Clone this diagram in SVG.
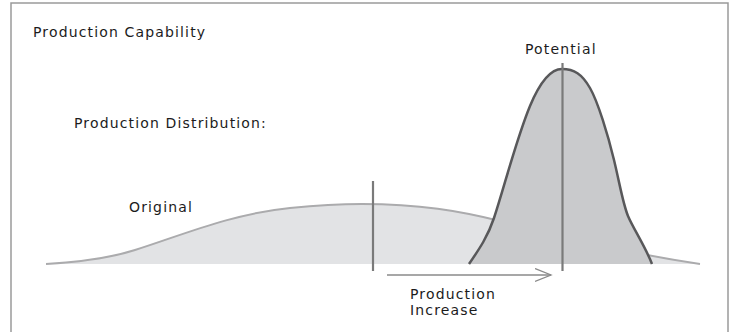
<svg xmlns="http://www.w3.org/2000/svg" width="734" height="332" viewBox="0 0 734 332">
<style>
  .lbl { font-family: "DejaVu Sans", "Liberation Sans", sans-serif; font-size: 14px; letter-spacing: 1.15px; fill: #1c1c1c; }
  .frame { fill: none; stroke: #9a9a9a; stroke-width: 1.5; }
  .marker { stroke: #7a7a7a; stroke-width: 2.2; fill: none; }
</style>
<defs>
  <marker id="chev" markerWidth="18" markerHeight="16" refX="16" refY="7" orient="auto" markerUnits="userSpaceOnUse">
    <path d="M0,0.5 L16,7 L0,13.5" fill="none" stroke="#8a8a8a" stroke-width="1.3"/>
  </marker>
</defs>
<rect x="0" y="0" width="734" height="332" fill="#fff"/>
<path class="frame" d="M11,332 V3 H728 V332"/>
<text class="lbl" x="33" y="37.3">Production Capability</text>
<text class="lbl" x="74" y="128.3">Production Distribution:</text>
<g id="original">
  <path d="M46,264 C80,262 110,258 135,250 C180,236 230,214 290,208 C320,205 340,204 362,204 C420,204 460,211 500,221 C560,236 620,252 700,264 Z" fill="#e2e3e5"/>
  <path d="M46,264 C80,262 110,258 135,250 C180,236 230,214 290,208 C320,205 340,204 362,204 C420,204 460,211 500,221 C560,236 620,252 700,264" fill="none" stroke="#ababad" stroke-width="2"/>
  <line class="marker" x1="373" y1="181" x2="373" y2="271"/>
  <text class="lbl" x="129" y="211.7">Original</text>
</g>
<g id="potential">
  <path d="M469,264 C480,248 488,236 494,218 C504,188 516,140 530,106 C540,82 550,69 562,69 C574,69 582,74 590,88 C598,102 608,135 614,160 C620,185 623,204 628,216 C633,228 646,248 652,264 Z" fill="#c9cacc"/>
  <path d="M469,264 C480,248 488,236 494,218 C504,188 516,140 530,106 C540,82 550,69 562,69 C574,69 582,74 590,88 C598,102 608,135 614,160 C620,185 623,204 628,216 C633,228 646,248 652,264" fill="none" stroke="#58585a" stroke-width="2.5"/>
  <line class="marker" x1="562.5" y1="63" x2="562.5" y2="271"/>
  <text class="lbl" x="525" y="54.3">Potential</text>
</g>
<g id="connectors">
  <line x1="387" y1="275" x2="551" y2="275" stroke="#8a8a8a" stroke-width="1.3" marker-end="url(#chev)"/>
</g>
<g id="increase-label">
  <text class="lbl" x="410" y="299.3">Production</text>
  <text class="lbl" x="410" y="315">Increase</text>
</g>
</svg>
